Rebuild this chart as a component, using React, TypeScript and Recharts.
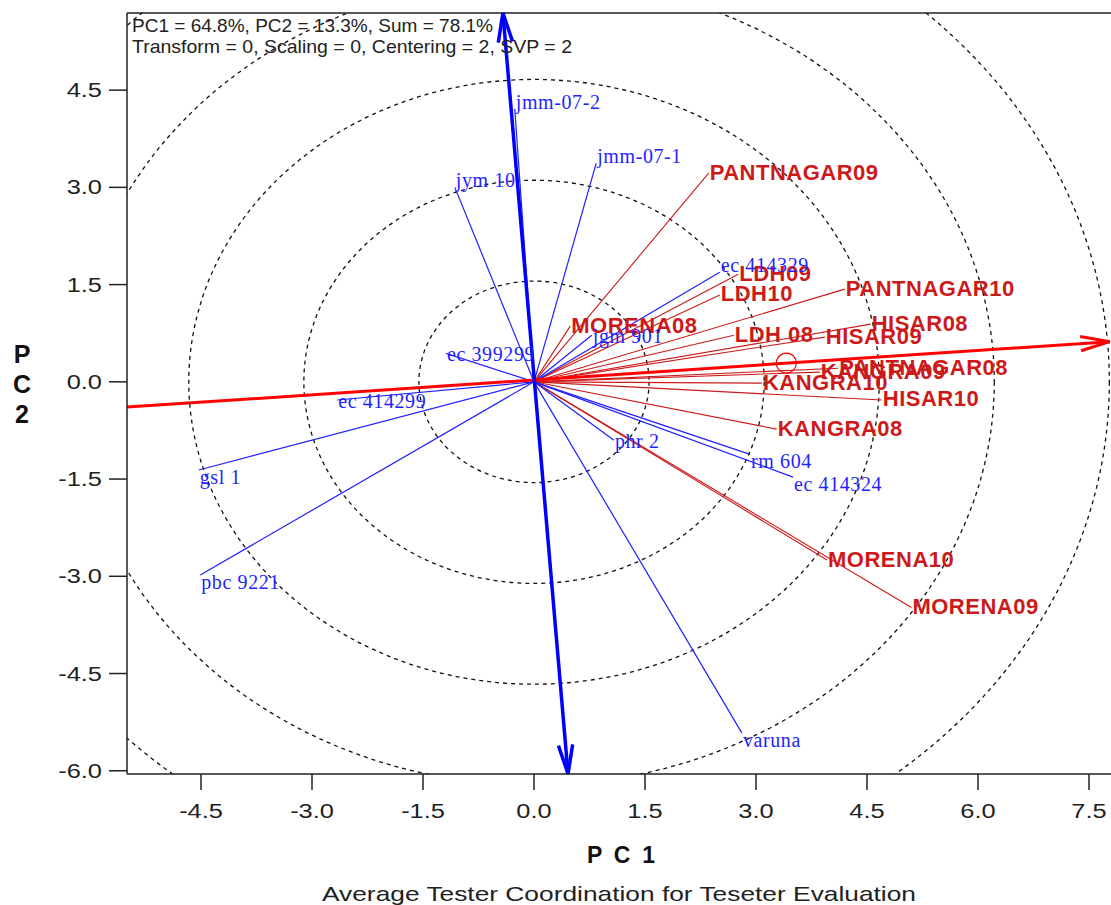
import { ScatterChart, Scatter, XAxis, YAxis, ReferenceLine, ReferenceArea, ReferenceDot } from 'recharts'

// axis ranges and ticks (PC1 / PC2 scores)
const X_MIN = -5.5
const X_MAX = 8.0
const Y_MIN = -6.05
const Y_MAX = 5.69
const X_TICKS = [-4.5, -3, -1.5, 0, 1.5, 3, 4.5, 6, 7.5]
const Y_TICKS = [-6, -4.5, -3, -1.5, 0, 1.5, 3, 4.5]

// concentric rings around the origin
const RING_RADII = [1.555, 3.11, 4.665, 6.22, 7.775]

// genotypes (blue)
const GENOTYPE_NAMES = [
  'jmm-07-2', 'jmm-07-1', 'jym 10', 'ec 414329', 'jgm 901', 'ec 399299', 'ec 414299',
  'gsl 1', 'pbc 9221', 'phr 2', 'rm 604', 'ec 414324', 'varuna',
]
const GENOTYPE_PC1 = [-0.26, 0.84, -1.07, 2.51, 0.78, -1.19, -2.66, -4.53, -4.51, 1.08, 2.92, 3.5, 2.81]
const GENOTYPE_PC2 = [4.21, 3.37, 3.0, 1.69, 0.72, 0.44, -0.28, -1.36, -2.98, -0.9, -1.12, -1.47, -5.42]

// testers / environments (red)
const ENV_NAMES = [
  'PANTNAGAR09', 'LDH09', 'LDH10', 'PANTNAGAR10', 'MORENA08', 'HISAR08', 'LDH 08', 'HISAR09',
  'PANTNAGAR08', 'KANGRA09', 'KANGRA10', 'HISAR10', 'KANGRA08', 'MORENA10', 'MORENA09',
]
const ENV_PC1 = [2.36, 2.76, 2.51, 4.2, 0.49, 4.55, 2.7, 3.93, 4.11, 3.86, 3.08, 4.7, 3.28, 3.96, 5.1]
const ENV_PC2 = [3.22, 1.66, 1.34, 1.43, 0.86, 0.89, 0.72, 0.69, 0.21, 0.15, -0.02, -0.28, -0.73, -2.75, -3.48]

// average environment and the ATC axes
const AVG_ENV = { x: 3.41, y: 0.29 }
const ATC_ABSCISSA = [{ x: -5.5, y: -0.39 }, { x: 7.78, y: 0.62 }]
const ATC_ORDINATE = [{ x: -0.42, y: 5.69 }, { x: 0.46, y: -6.05 }]

const genotypes = GENOTYPE_NAMES.map((name, i) => ({ name, x: GENOTYPE_PC1[i], y: GENOTYPE_PC2[i] }))
const environments = ENV_NAMES.map((name, i) => ({ name, x: ENV_PC1[i], y: ENV_PC2[i] }))

const ORIGIN = { x: 0, y: 0 }
const SANS = 'Arial, "Liberation Sans", sans-serif'
const SERIF = '"Times New Roman", "Liberation Serif", serif'
const BLUE = '#1f1fff'
const RED = '#cc1a1a'

function XTick({ x, y, payload }: any) {
  return (
    <g transform={`translate(${x},${y}) scale(1.27,1)`}>
      <text x={0} y={0} dy={26} textAnchor="middle" fontFamily={SANS} fontSize={20} fill="#222">
        {Number(payload.value).toFixed(1)}
      </text>
    </g>
  )
}

function YTick({ x, y, payload }: any) {
  return (
    <g transform={`translate(${x},${y}) scale(1.27,1)`}>
      <text x={0} y={0} dy={7} textAnchor="end" fontFamily={SANS} fontSize={20} fill="#222">
        {Number(payload.value).toFixed(1)}
      </text>
    </g>
  )
}

const ringShape = (p: any) => (
  <ellipse
    cx={p.x + p.width / 2}
    cy={p.y + p.height / 2}
    rx={Math.abs(p.width) / 2}
    ry={Math.abs(p.height) / 2}
    fill="none"
    stroke="#111"
    strokeWidth={1.3}
    strokeDasharray="4 4"
    clipPath={p.clipPath}
  />
)

// thick line with open arrow heads
const arrowShape = (color: string, width: number, bothEnds: boolean) => (p: any) => {
  const { x1, y1, x2, y2 } = p
  const head = (tx: number, ty: number, fx: number, fy: number) => {
    const a = Math.atan2(ty - fy, tx - fx)
    const len = 30
    const s = 0.24
    const l = [tx - len * Math.cos(a - s), ty - len * Math.sin(a - s)]
    const r = [tx - len * Math.cos(a + s), ty - len * Math.sin(a + s)]
    return `${l[0]},${l[1]} ${tx},${ty} ${r[0]},${r[1]}`
  }
  return (
    <g>
      <line x1={x1} y1={y1} x2={x2} y2={y2} stroke={color} strokeWidth={width} />
      <polyline points={head(x2, y2, x1, y1)} fill="none" stroke={color} strokeWidth={width} />
      {bothEnds && <polyline points={head(x1, y1, x2, y2)} fill="none" stroke={color} strokeWidth={width} />}
    </g>
  )
}

const envLabel = (p: any) => (
  <text
    x={p.cx + 1}
    y={p.cy - 1}
    dominantBaseline="central"
    fontFamily={SANS}
    fontWeight="bold"
    fontSize={22}
    letterSpacing={0.5}
    fill={RED}
  >
    {p.payload.name}
  </text>
)

// genotype names sit just above upper points and just below lower ones
const genoLabel = (p: any) => {
  const v = p.payload.y
  const dy = v > 1 ? -7 : v < -1 ? 7 : 1
  return (
    <text
      x={p.cx + 1}
      y={p.cy + dy}
      dominantBaseline="central"
      fontFamily={SERIF}
      fontSize={20}
      letterSpacing={0.6}
      fill={BLUE}
    >
      {p.payload.name}
    </text>
  )
}

export default function App() {
  return (
    <div style={{ position: 'absolute', left: 0, top: 0, width: 1111, height: 905, overflow: 'hidden', background: '#fff' }}>
      <ScatterChart width={1126} height={905} margin={{ top: 13, right: 0, bottom: 91, left: 27 }}>
        <XAxis
          type="number"
          dataKey="x"
          domain={[X_MIN, X_MAX]}
          allowDataOverflow
          ticks={X_TICKS}
          interval={0}
          height={40}
          tickSize={16}
          tickMargin={2}
          tick={<XTick />}
          axisLine={{ stroke: '#222', strokeWidth: 1.5 }}
          tickLine={{ stroke: '#222', strokeWidth: 1.5 }}
        />
        <YAxis
          type="number"
          dataKey="y"
          domain={[Y_MIN, Y_MAX]}
          allowDataOverflow
          ticks={Y_TICKS}
          interval={0}
          width={100}
          tickSize={18}
          tickMargin={7}
          tick={<YTick />}
          axisLine={{ stroke: '#222', strokeWidth: 1.5 }}
          tickLine={{ stroke: '#222', strokeWidth: 1.5 }}
        />
        <ReferenceLine y={Y_MAX} stroke="#222" strokeWidth={1.5} ifOverflow="visible" />

        {RING_RADII.map((r) => (
          <ReferenceArea key={r} x1={-r} x2={r} y1={-r} y2={r} ifOverflow="hidden" shape={ringShape} />
        ))}

        {environments.map((e) => (
          <ReferenceLine
            key={'el' + e.name}
            segment={[ORIGIN, { x: e.x, y: e.y }]}
            stroke={RED}
            strokeWidth={1.1}
            ifOverflow="visible"
          />
        ))}
        {genotypes.map((g) => (
          <ReferenceLine
            key={'gl' + g.name}
            segment={[ORIGIN, { x: g.x, y: g.y }]}
            stroke={BLUE}
            strokeWidth={1.2}
            ifOverflow="visible"
          />
        ))}

        <ReferenceLine segment={ATC_ABSCISSA} ifOverflow="visible" shape={arrowShape('#ff0000', 3, false)} />
        <ReferenceLine segment={ATC_ORDINATE} ifOverflow="visible" shape={arrowShape('#0000ff', 3.5, true)} />
        <ReferenceDot x={AVG_ENV.x} y={AVG_ENV.y} r={10} fill="none" stroke="#ff0000" strokeWidth={1.2} ifOverflow="visible" />

        <Scatter data={environments} shape={envLabel} isAnimationActive={false} />
        <Scatter data={genotypes} shape={genoLabel} isAnimationActive={false} />
      </ScatterChart>

      <svg width={1111} height={905} style={{ position: 'absolute', left: 0, top: 0, pointerEvents: 'none' }}>
        <text x={132} y={32} fontFamily={SANS} fontSize={19} fill="#222" textLength={361} lengthAdjust="spacingAndGlyphs">
          PC1 = 64.8%, PC2 = 13.3%, Sum = 78.1%
        </text>
        <text x={132} y={53} fontFamily={SANS} fontSize={19} fill="#222" textLength={440} lengthAdjust="spacingAndGlyphs">
          Transform = 0, Scaling = 0, Centering = 2, SVP = 2
        </text>
        <text x={621} y={863} textAnchor="middle" fontFamily={SANS} fontWeight="bold" fontSize={23} fill="#111" textLength={68} lengthAdjust="spacing">
          P C 1
        </text>
        <g fontFamily={SANS} fontWeight="bold" fontSize={25} fill="#111" textAnchor="middle">
          <text x={22} y={363}>P</text>
          <text x={22} y={393}>C</text>
          <text x={22} y={423}>2</text>
        </g>
        <text x={619} y={901} textAnchor="middle" fontFamily={SANS} fontSize={21} fill="#222" textLength={594} lengthAdjust="spacingAndGlyphs">
          Average Tester Coordination for Teseter Evaluation
        </text>
      </svg>
    </div>
  )
}
